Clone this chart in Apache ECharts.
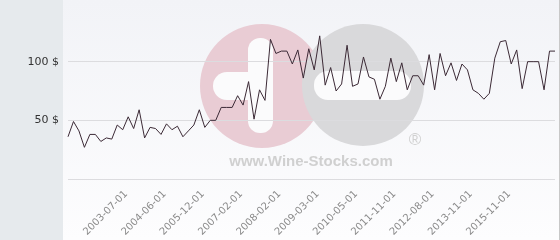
<!DOCTYPE html>
<html>
<head>
<meta charset="utf-8">
<script src="https://cdn.jsdelivr.net/npm/echarts@6/dist/echarts.min.js"></script>
<style>html,body{margin:0;padding:0;background:#fff}#c{width:560px;height:240px}</style>
</head>
<body>
<div id="c"></div>
<script>
var dates = [
'2002-08-01','2002-09-01','2002-10-01','2002-11-01','2002-12-01','2003-01-01','2003-02-01','2003-03-01','2003-05-01','2003-06-01',
'2003-07-01','2003-08-01','2003-10-01','2003-11-01','2004-01-01','2004-03-01','2004-05-01','2004-06-01','2004-08-01','2004-11-01',
'2005-01-01','2005-04-01','2005-07-01','2005-10-01','2005-12-01','2006-02-01','2006-04-01','2006-06-01','2006-08-01','2006-10-01',
'2006-12-01','2007-02-01','2007-04-01','2007-06-01','2007-08-01','2007-10-01','2007-11-01','2007-12-01','2008-02-01','2008-04-01',
'2008-06-01','2008-08-01','2008-10-01','2008-12-01','2009-01-01','2009-03-01','2009-05-01','2009-07-01','2009-09-01','2009-11-01',
'2010-01-01','2010-03-01','2010-05-01','2010-08-01','2010-11-01','2011-01-01','2011-04-01','2011-07-01','2011-09-01','2011-11-01',
'2011-12-01','2012-01-01','2012-03-01','2012-04-01','2012-05-01','2012-07-01','2012-08-01','2012-10-01','2012-12-01','2013-02-01',
'2013-05-01','2013-07-01','2013-09-01','2013-11-01','2014-02-01','2014-05-01','2014-08-01','2014-11-01','2015-02-01','2015-06-01',
'2015-11-01','2016-02-01','2016-05-01','2016-08-01','2016-11-01','2017-02-01','2017-05-01','2017-08-01','2017-11-01','2018-02-01'
];
var prices = [
36,49,41,27,38,38,32,35,34,46,
42,53,43,59,35,44,43,38,47,42,
45,36,41,46,59,44,50,50,61,61,
61,71,63,83,51,76,67,119,107,109,
109,98,110,86,111,93,122,80,95,75,
81,114,79,81,104,87,85,68,79,103,
83,99,76,88,88,80,106,76,107,88,
99,84,98,93,76,73,68,73,103,117,
118,98,110,77,100,100,100,76,109,109
];
var tickLabels = ['2003-07-01','2004-06-01','2005-12-01','2007-02-01','2008-02-01','2009-03-01','2010-05-01','2011-11-01','2012-08-01','2013-11-01','2015-11-01'];
var yTicks = [0, 50, 100, 150];

var chart = echarts.init(document.getElementById('c'), null, {renderer: 'canvas'});
chart.setOption({
  animation: false,
  grid: {left: 68, right: 5, top: 3, bottom: 61, containLabel: false},
  graphic: [
    {type: 'rect', z: -20, shape: {x: 63, y: 0, width: 497, height: 240},
      style: {fill: new echarts.graphic.LinearGradient(0, 0, 0, 1, [{offset: 0, color: '#f2f3f7'}, {offset: 1, color: '#fdfdfe'}])}},
    {type: 'rect', z: -20, shape: {x: 0, y: 0, width: 63, height: 240}, style: {fill: '#e6eaed'}},
    {type: 'line', z: -20, shape: {x1: 559.5, y1: 0, x2: 559.5, y2: 240}, style: {stroke: '#c8c8c8', lineWidth: 1}},
    {type: 'circle', z: -15, shape: {cx: 262, cy: 86, r: 62}, style: {fill: '#e9ccd4'}},
    {type: 'circle', z: -14, shape: {cx: 363, cy: 85, r: 61}, style: {fill: '#d9d9db'}},
    {type: 'rect', z: -13, shape: {x: 248, y: 38, width: 25, height: 95, r: 12}, style: {fill: '#fbfbfc'}},
    {type: 'rect', z: -13, shape: {x: 213, y: 72, width: 50, height: 28, r: 14}, style: {fill: '#fbfbfc'}},
    {type: 'rect', z: -13, shape: {x: 314, y: 71, width: 97, height: 29, r: 14}, style: {fill: '#fbfbfc'}},
    {type: 'text', z: -13, style: {x: 311, y: 162, text: 'www.Wine-Stocks.com', fill: '#d0d0d0', font: 'bold 15px "Liberation Sans", Arial, sans-serif', align: 'center', verticalAlign: 'middle'}},
    {type: 'text', z: -13, style: {x: 415, y: 140, text: '®', fill: '#d0d0d0', font: '17px "Liberation Sans", Arial, sans-serif', align: 'center', verticalAlign: 'middle'}}
  ],
  xAxis: {
    type: 'category',
    data: dates,
    boundaryGap: false,
    axisLine: {show: false},
    axisTick: {show: false},
    splitLine: {show: false},
    axisLabel: {
      rotate: 45,
      margin: 10,
      verticalAlign: 'top',
      color: '#8a8a8a',
      fontSize: 10,
      fontFamily: 'DejaVu Sans',
      interval: function (i, v) { return tickLabels.indexOf(v) >= 0; }
    }
  },
  yAxis: {
    type: 'value',
    min: yTicks[0],
    max: yTicks[yTicks.length - 1],
    interval: 50,
    axisLine: {show: false},
    axisTick: {show: false},
    splitLine: {show: true, showMaxLine: false, lineStyle: {color: '#dcdcdf', width: 1}},
    axisLabel: {
      margin: 9,
      color: '#333',
      fontSize: 11,
      fontFamily: 'DejaVu Sans',
      showMinLabel: false,
      showMaxLabel: false,
      formatter: function (v) { return v + ' $'; }
    }
  },
  series: [{
    type: 'line',
    data: prices,
    symbol: 'none',
    z: 5,
    lineStyle: {color: '#3c2a36', width: 1}
  }]
});
</script>
</body>
</html>
